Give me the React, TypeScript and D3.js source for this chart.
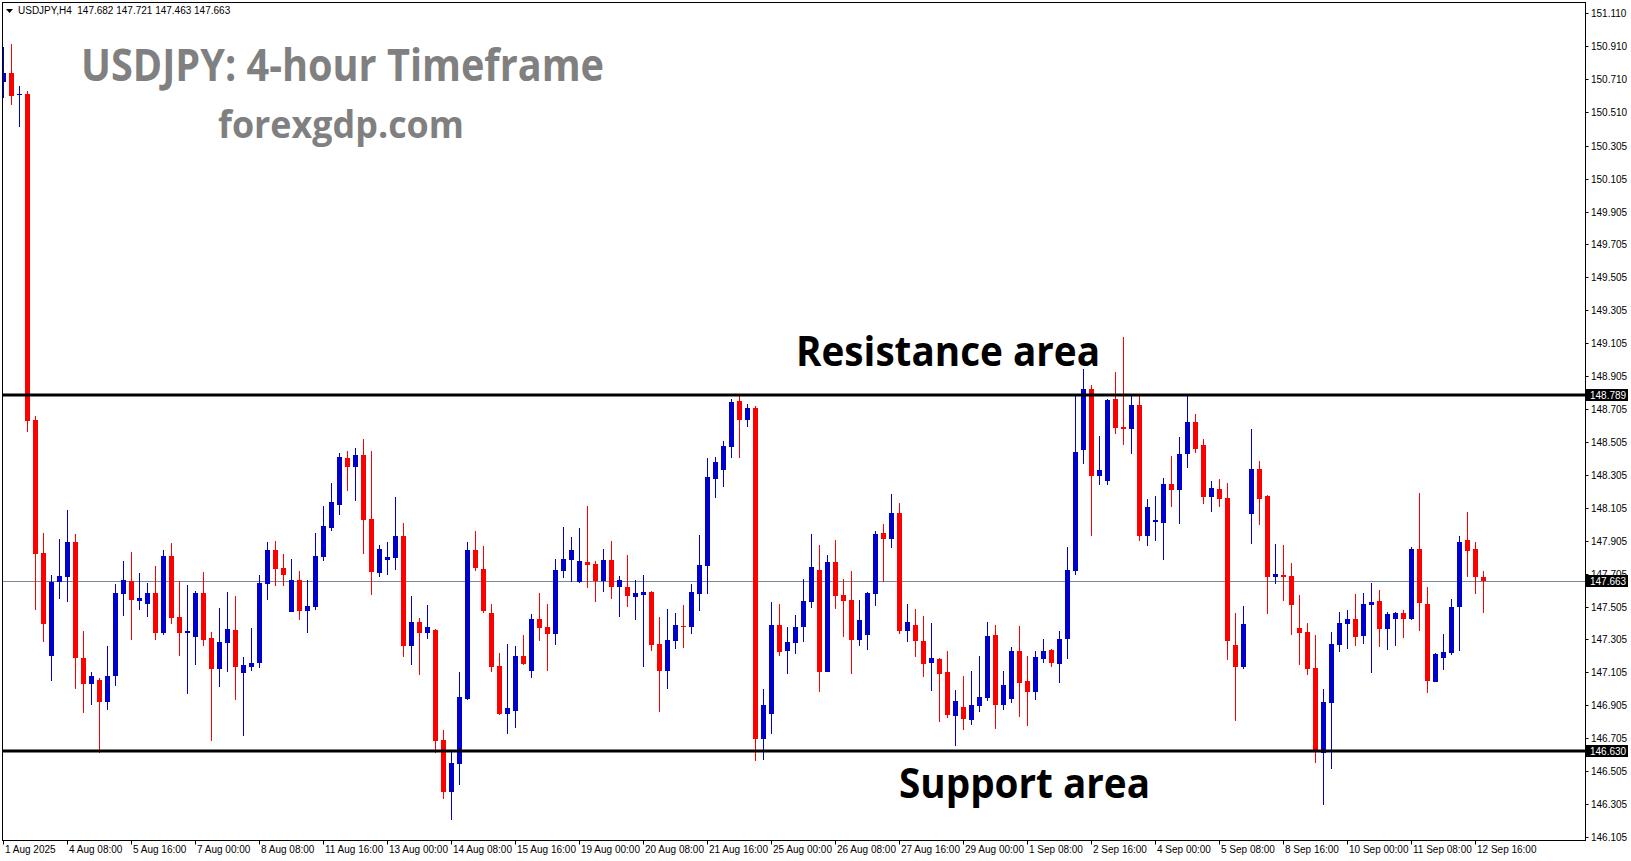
import React from 'react'
import * as d3 from 'd3'

// USDJPY H4 candles, 1 Aug 2025 00:00 .. 12 Sep 2025 20:00
const opens = [
  150.695, 150.748, 150.617, 150.619, 148.638, 147.83, 147.205, 147.654, 147.685, 147.897,
  147.194, 147.036, 147.059, 146.927, 147.085, 147.583, 147.66, 147.541, 147.522, 147.587,
  147.344, 147.812, 147.442, 147.344, 147.32, 147.587, 147.314, 147.127, 147.285, 147.363,
  147.103, 147.14, 147.164, 147.644, 147.849, 147.739, 147.474, 147.666, 147.48, 147.504,
  147.808, 147.982, 148.122, 148.408, 148.353, 148.426, 148.037, 147.709, 147.788, 147.8,
  147.934, 147.265, 147.411, 147.346, 147.363, 146.694, 146.38, 146.55, 146.945, 147.849,
  147.733, 147.466, 147.144, 146.854, 146.872, 147.205, 147.115, 147.429, 147.381, 147.34,
  147.723, 147.788, 147.656, 147.776, 147.764, 147.662, 147.788, 147.626, 147.626, 147.565,
  147.577, 147.595, 147.279, 147.115, 147.298, 147.389, 147.383, 147.583, 147.753, 148.282,
  148.336, 148.476, 148.756, 148.64, 148.713, 146.702, 146.854, 147.395, 147.237, 147.285,
  147.383, 147.535, 147.729, 147.109, 147.778, 147.577, 147.547, 147.304, 147.334, 147.583,
  147.953, 147.917, 148.075, 147.358, 147.395, 147.298, 147.164, 147.188, 147.109, 146.842,
  146.897, 146.818, 146.903, 146.951, 147.334, 146.909, 146.945, 147.235, 147.055, 146.988,
  147.188, 147.241, 147.158, 147.308, 147.723, 148.458, 148.827, 148.3, 148.27, 148.768,
  148.598, 148.586, 148.731, 147.935, 148.021, 148.015, 148.251, 148.215, 148.434, 148.628,
  148.488, 148.172, 148.221, 148.166, 147.273, 147.14, 148.069, 148.341, 148.177, 147.686,
  147.697, 147.691, 147.375, 147.35, 147.133, 146.617, 146.921, 147.273, 147.401, 147.429,
  147.328, 147.516, 147.539, 147.371, 147.431, 147.466, 147.431, 147.855, 147.521, 147.048,
  147.194, 147.225, 147.504, 147.909, 147.855, 147.682,
]
const highs = [
  150.906, 150.923, 150.667, 150.637, 148.663, 147.95, 147.697, 147.915, 148.092, 147.946,
  147.358, 147.107, 147.073, 147.265, 147.642, 147.782, 147.836, 147.709, 147.648, 147.751,
  147.849, 147.891, 147.66, 147.636, 147.6, 147.715, 147.35, 147.496, 147.593, 147.569,
  147.2, 147.375, 147.697, 147.897, 147.903, 147.824, 147.794, 147.721, 147.666, 147.952,
  148.116, 148.256, 148.438, 148.45, 148.468, 148.523, 148.45, 147.879, 147.897, 148.171,
  148.013, 147.569, 147.436, 147.514, 147.37, 146.755, 146.623, 147.109, 147.897, 147.964,
  147.873, 147.521, 147.223, 147.279, 147.267, 147.334, 147.462, 147.589, 147.521, 147.794,
  147.988, 147.928, 147.982, 148.116, 147.782, 147.855, 147.903, 147.691, 147.818, 147.666,
  147.697, 147.6, 147.443, 147.492, 147.466, 147.515, 147.644, 147.941, 148.409, 148.415,
  148.513, 148.768, 148.792, 148.737, 148.725, 147.006, 147.535, 147.522, 147.383, 147.456,
  147.674, 147.947, 147.881, 147.82, 147.911, 147.674, 147.723, 147.547, 147.595, 147.966,
  148.008, 148.191, 148.136, 147.522, 147.492, 147.449, 147.407, 147.19, 147.237, 146.999,
  147.085, 147.115, 147.206, 147.413, 147.395, 147.115, 147.261, 147.389, 147.206, 147.237,
  147.31, 147.249, 147.358, 147.867, 148.786, 148.95, 148.851, 148.541, 148.768, 148.932,
  149.145, 148.786, 148.786, 148.16, 148.178, 148.288, 148.422, 148.537, 148.786, 148.677,
  148.525, 148.27, 148.282, 148.258, 147.468, 147.51, 148.584, 148.389, 148.183, 147.885,
  147.879, 147.77, 147.575, 147.405, 147.332, 147.006, 147.35, 147.472, 147.484, 147.581,
  147.587, 147.648, 147.606, 147.472, 147.472, 147.484, 147.867, 148.195, 147.624, 147.22,
  147.34, 147.551, 147.934, 148.08, 147.897, 147.721,
]
const lows = [
  150.597, 150.551, 150.42, 148.567, 147.484, 147.29, 147.053, 147.551, 147.535, 147.004,
  146.86, 146.907, 146.617, 146.877, 147.024, 147.449, 147.304, 147.486, 147.443, 147.304,
  147.332, 147.401, 147.205, 146.974, 147.15, 147.265, 146.69, 147.018, 147.109, 146.939,
  146.72, 147.115, 147.134, 147.547, 147.632, 147.632, 147.47, 147.425, 147.346, 147.486,
  147.784, 147.964, 148.061, 148.207, 148.146, 147.824, 147.575, 147.685, 147.697, 147.727,
  147.199, 147.15, 147.089, 147.308, 146.617, 146.338, 146.21, 146.423, 146.94, 147.723,
  147.468, 147.109, 146.848, 146.733, 146.769, 147.152, 147.073, 147.298, 147.115, 147.273,
  147.68, 147.656, 147.65, 147.62, 147.535, 147.595, 147.553, 147.443, 147.504, 147.425,
  147.14, 147.237, 146.866, 147.006, 147.249, 147.255, 147.34, 147.48, 147.583, 148.166,
  148.233, 148.409, 148.409, 148.598, 146.569, 146.575, 146.733, 147.206, 147.097, 147.219,
  147.291, 147.498, 146.988, 147.105, 147.492, 147.322, 147.097, 147.267, 147.243, 147.51,
  147.656, 147.863, 147.34, 147.291, 147.2, 147.079, 146.994, 146.805, 146.83, 146.66,
  146.757, 146.787, 146.866, 146.933, 146.763, 146.878, 146.921, 146.836, 146.781, 146.939,
  147.164, 147.14, 147.042, 147.188, 147.699, 148.373, 147.935, 148.245, 148.245, 148.555,
  148.488, 148.434, 147.905, 147.875, 147.905, 147.79, 148.112, 148.008, 148.349, 148.44,
  148.13, 148.081, 148.112, 147.182, 146.812, 147.128, 147.887, 148.002, 147.462, 147.644,
  147.541, 147.334, 147.152, 147.091, 146.556, 146.301, 146.52, 147.231, 147.249, 147.267,
  147.279, 147.103, 147.261, 147.243, 147.267, 147.316, 147.425, 147.358, 146.982, 147.045,
  147.121, 147.213, 147.237, 147.686, 147.583, 147.463,
]
const closes = [
  150.748, 150.608, 150.62, 148.634, 147.826, 147.401, 147.654, 147.691, 147.897, 147.194,
  147.036, 147.083, 146.927, 147.083, 147.587, 147.666, 147.547, 147.557, 147.587, 147.346,
  147.812, 147.437, 147.346, 147.357, 147.587, 147.304, 147.127, 147.29, 147.369, 147.14,
  147.15, 147.162, 147.648, 147.849, 147.735, 147.699, 147.666, 147.48, 147.508, 147.812,
  147.994, 148.14, 148.414, 148.353, 148.426, 148.031, 147.715, 147.855, 147.806, 147.934,
  147.265, 147.411, 147.346, 147.381, 146.69, 146.38, 146.556, 146.957, 147.849, 147.741,
  147.48, 147.14, 146.854, 146.889, 147.205, 147.158, 147.429, 147.377, 147.34, 147.727,
  147.794, 147.849, 147.782, 147.757, 147.662, 147.788, 147.626, 147.666, 147.571, 147.589,
  147.595, 147.273, 147.115, 147.304, 147.395, 147.383, 147.595, 147.759, 148.294, 148.385,
  148.482, 148.75, 148.64, 148.713, 146.702, 146.909, 147.395, 147.231, 147.291, 147.383,
  147.541, 147.747, 147.109, 147.778, 147.571, 147.541, 147.304, 147.425, 147.589, 147.947,
  147.917, 148.075, 147.358, 147.413, 147.298, 147.158, 147.194, 147.097, 146.848, 146.933,
  146.824, 146.909, 146.957, 147.328, 146.909, 147.028, 147.235, 147.042, 146.988, 147.2,
  147.235, 147.164, 147.308, 147.727, 148.444, 148.827, 148.3, 148.335, 148.762, 148.592,
  148.586, 148.731, 147.935, 148.112, 148.031, 148.251, 148.215, 148.434, 148.628, 148.464,
  148.172, 148.227, 148.16, 147.298, 147.14, 147.401, 148.341, 148.16, 147.686, 147.703,
  147.686, 147.516, 147.346, 147.127, 146.635, 146.925, 147.277, 147.405, 147.429, 147.322,
  147.521, 147.533, 147.371, 147.46, 147.466, 147.431, 147.855, 147.529, 147.055, 147.217,
  147.231, 147.502, 147.897, 147.844, 147.686, 147.663,
]

const priceTicks = [
  151.11, 150.91, 150.71, 150.51, 150.305, 150.105, 149.905, 149.705, 149.505, 149.305,
  149.105, 148.905, 148.705, 148.505, 148.305, 148.105, 147.905, 147.705, 147.505, 147.305,
  147.105, 146.905, 146.705, 146.505, 146.305, 146.105,
]
const timeLabels = [
  '1 Aug 2025', '4 Aug 08:00', '5 Aug 16:00', '7 Aug 00:00', '8 Aug 08:00', '11 Aug 16:00',
  '13 Aug 00:00', '14 Aug 08:00', '15 Aug 16:00', '19 Aug 00:00', '20 Aug 08:00', '21 Aug 16:00',
  '25 Aug 00:00', '26 Aug 08:00', '27 Aug 16:00', '29 Aug 00:00', '1 Sep 08:00', '2 Sep 16:00',
  '4 Sep 00:00', '5 Sep 08:00', '8 Sep 16:00', '10 Sep 00:00', '11 Sep 08:00', '12 Sep 16:00',
]
const barsPerLabel = 8

const headerText = 'USDJPY,H4  147.682 147.721 147.463 147.663'
const resistance = 148.789
const support = 146.63
const lastPrice = 147.663

const W = 1631
const H = 861
const left = 2.5
const right = 1585.5
const top = 2.5
const bottom = 840.5

const axisFont = '"Liberation Sans", Arial, sans-serif'
const titleFont = '"Open Sans", "Noto Sans", sans-serif'

export default function App() {
  const x = d3.scaleLinear().domain([0, 1]).range([3.5, 11.5])
  const y = d3.scaleLinear().domain([146.105, 151.11]).range([837, 13.2])

  const candles = opens.map((o, i) => ({ o, h: highs[i], l: lows[i], c: closes[i], i }))
  const fmt = d3.format('.3f')

  const priceTag = (v: number, key: string) => {
    const cy = Math.round(y(v))
    return (
      <g key={key}>
        <rect x={1586} y={cy - 6} width={42} height={12} fill="#000" />
        <text x={1590} y={cy} dy="0.36em" fill="#fff" fontSize={10} fontFamily={axisFont}>
          {fmt(v)}
        </text>
      </g>
    )
  }

  return (
    <svg
      width={W}
      height={H}
      style={{ position: 'absolute', left: 0, top: 0, background: '#fff' }}
    >
      <defs>
        <clipPath id="plot">
          <rect x={3} y={3} width={right - 3} height={bottom - 3} />
        </clipPath>
      </defs>
      <rect x={0} y={0} width={W} height={H} fill="#fff" />

      {/* current price line */}
      <line
        x1={left}
        x2={right}
        y1={Math.round(y(lastPrice)) + 0.5}
        y2={Math.round(y(lastPrice)) + 0.5}
        stroke="#778899"
        strokeWidth={1}
      />

      {/* candles */}
      <g clipPath="url(#plot)" shapeRendering="crispEdges">
        {candles.map((d) => {
          const cx = x(d.i)
          const col = d.c >= d.o ? '#0000CD' : '#FF0000'
          const yTop = Math.round(y(Math.max(d.o, d.c)))
          const yBot = Math.round(y(Math.min(d.o, d.c)))
          return (
            <g key={d.i}>
              <rect
                x={Math.floor(cx)}
                y={Math.round(y(d.h))}
                width={1}
                height={Math.max(1, Math.round(y(d.l)) - Math.round(y(d.h)))}
                fill={col}
              />
              <rect
                x={Math.floor(cx) - 2}
                y={yTop}
                width={5}
                height={Math.max(1, yBot - yTop)}
                fill={col}
              />
            </g>
          )
        })}
      </g>

      {/* support / resistance */}
      {[resistance, support].map((v) => (
        <rect
          key={v}
          x={left}
          y={Math.round(y(v)) - 1.5}
          width={right - left}
          height={3}
          fill="#000"
        />
      ))}

      {/* frame */}
      <rect
        x={left}
        y={top}
        width={right - left}
        height={bottom - top}
        fill="none"
        stroke="#000"
        strokeWidth={1}
      />

      {/* price axis */}
      <g fontFamily={axisFont} fontSize={10} fill="#000">
        {priceTicks.map((v) => {
          const ty = Math.round(y(v)) + 0.5
          return (
            <g key={v}>
              <line x1={right} x2={right + 3} y1={ty} y2={ty} stroke="#000" />
              <text x={1591} y={ty} dy="0.36em">
                {fmt(v)}
              </text>
            </g>
          )
        })}
      </g>
      {priceTag(resistance, 'r')}
      {priceTag(lastPrice, 'c')}
      {priceTag(support, 's')}

      {/* time axis */}
      <g fontFamily={axisFont} fontSize={10} fill="#000">
        {timeLabels.map((t, k) => {
          const tx = Math.floor(x(k * barsPerLabel)) + 0.5
          return (
            <g key={t}>
              <line x1={tx} x2={tx} y1={bottom} y2={bottom + 4} stroke="#000" />
              <text x={tx + 1.5} y={853}>
                {t}
              </text>
            </g>
          )
        })}
      </g>

      {/* header */}
      <path d="M6,9 L13,9 L9.5,13 Z" fill="#000" />
      <text x={18} y={14} fontFamily={axisFont} fontSize={10} fill="#000" xmlSpace="preserve">
        {headerText}
      </text>

      {/* annotations */}
      <g fontFamily={titleFont} fontWeight={700}>
        <text x={81} y={81} fontSize={44} fill="#808080" textLength={523} lengthAdjust="spacingAndGlyphs">
          USDJPY: 4-hour Timeframe
        </text>
        <text x={218} y={138} fontSize={37} fill="#808080" textLength={246} lengthAdjust="spacingAndGlyphs">
          forexgdp.com
        </text>
        <text x={796} y={366} fontSize={42} fill="#000" textLength={304} lengthAdjust="spacingAndGlyphs">
          Resistance area
        </text>
        <text x={899} y={798} fontSize={42} fill="#000" textLength={251} lengthAdjust="spacingAndGlyphs">
          Support area
        </text>
      </g>
    </svg>
  )
}
